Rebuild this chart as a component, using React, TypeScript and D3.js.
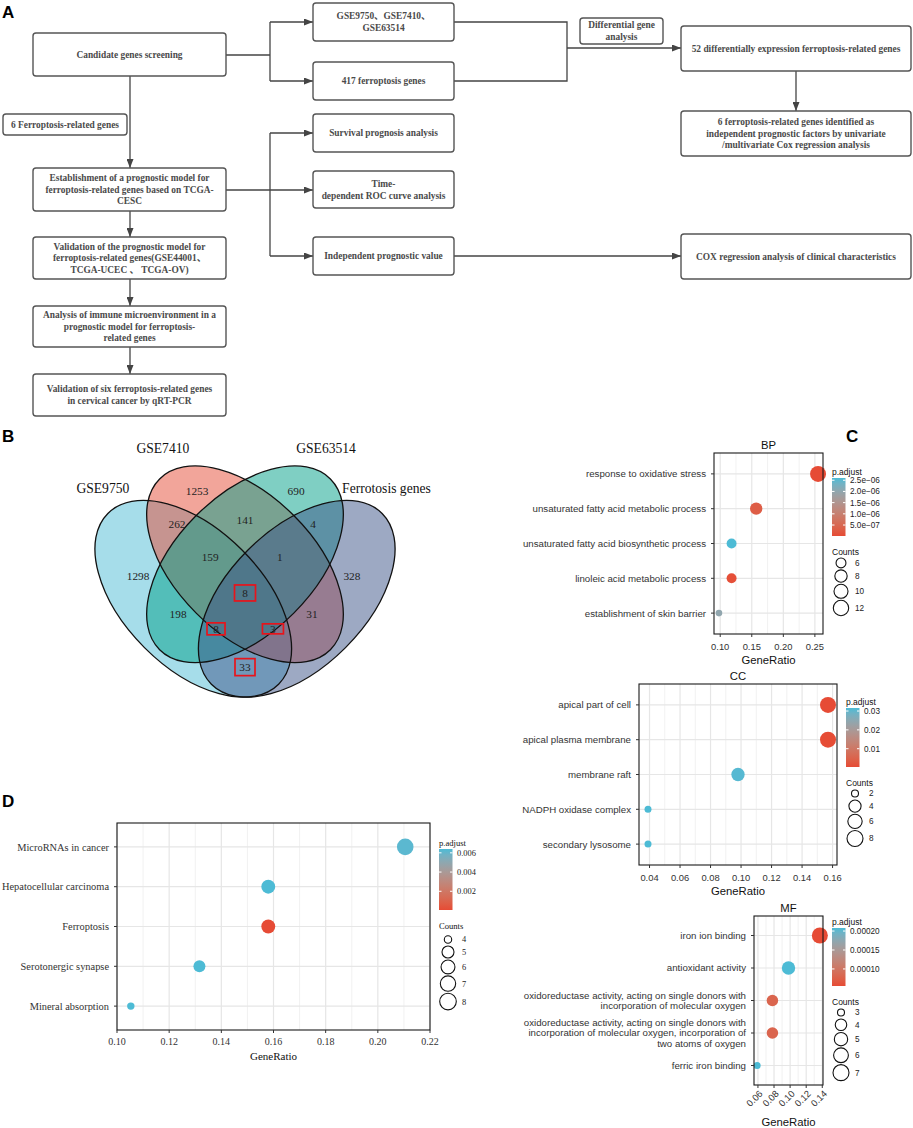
import React from 'react';
import * as d3 from 'd3';

const W = 913;
const H = 1128;
const RED = '#E64B35';
const BLUE = '#4DBBD5';
const SANS = "'Liberation Sans', Arial, Helvetica, sans-serif";
const SERIF = "'Liberation Serif', 'Times New Roman', 'Noto Sans CJK SC', serif";

// ---------- A: flow chart ----------
const flowText: Record<string, string[]> = {
  cand: ['Candidate genes screening'],
  gse: ['GSE9750、GSE7410、', 'GSE63514'],
  fer417: ['417 ferroptosis genes'],
  six: ['6 Ferroptosis-related genes'],
  surv: ['Survival prognosis analysis'],
  roc: ['Time-', 'dependent ROC curve analysis'],
  indep: ['Independent prognostic value'],
  estab: ['Establishment of a prognostic model for', 'ferroptosis-related genes based on TCGA-', 'CESC'],
  valid: ['Validation of the prognostic model for', 'ferroptosis-related genes(GSE44001、', 'TCGA-UCEC 、 TCGA-OV)'],
  immune: ['Analysis of  immune microenvironment in a', 'prognostic model for ferroptosis-', 'related genes'],
  qpcr: ['Validation of  six ferroptosis-related genes', 'in cervical cancer by qRT-PCR'],
  diff: ['Differential gene', 'analysis'],
  deg52: ['52 differentially expression ferroptosis-related genes'],
  cox6: ['6 ferroptosis-related genes identified as', 'independent prognostic factors by univariate', '/multivariate Cox regression analysis'],
  coxclin: ['COX regression analysis of clinical characteristics'],
};

// box layout [x0, y0, x1, y1]
const flowBox: Record<string, [number, number, number, number]> = {
  cand: [33, 33, 226, 76],
  gse: [313, 3, 454, 41],
  fer417: [313, 62, 454, 100],
  six: [3, 114, 127, 135],
  surv: [313, 114, 454, 152],
  roc: [313, 171, 454, 208],
  indep: [313, 237, 454, 275],
  estab: [33, 168, 226, 211],
  valid: [33, 237, 226, 279],
  immune: [33, 306, 226, 347],
  qpcr: [33, 374, 226, 416],
  diff: [580, 18, 663, 44],
  deg52: [681, 26, 911, 71],
  cox6: [681, 111, 911, 156],
  coxclin: [681, 234, 911, 279],
};

// connectors: points, arrow at end?
const flowLinks: { pts: [number, number][]; arrow: boolean }[] = [
  { pts: [[226, 55], [270, 55]], arrow: false },
  { pts: [[270, 22], [270, 81]], arrow: false },
  { pts: [[270, 22], [313, 22]], arrow: true },
  { pts: [[270, 81], [313, 81]], arrow: true },
  { pts: [[454, 22], [567, 22], [567, 81], [454, 81]], arrow: false },
  { pts: [[567, 48], [681, 48]], arrow: true },
  { pts: [[796, 71], [796, 111]], arrow: true },
  { pts: [[130, 76], [130, 168]], arrow: true },
  { pts: [[226, 190], [313, 190]], arrow: true },
  { pts: [[270, 133], [270, 256]], arrow: false },
  { pts: [[270, 133], [313, 133]], arrow: true },
  { pts: [[270, 256], [313, 256]], arrow: true },
  { pts: [[454, 256], [681, 256]], arrow: true },
  { pts: [[130, 211], [130, 237]], arrow: true },
  { pts: [[130, 279], [130, 306]], arrow: true },
  { pts: [[130, 347], [130, 374]], arrow: true },
];

// ---------- B: Venn ----------
const vennSets = ['GSE9750', 'GSE7410', 'GSE63514', 'Ferrotosis genes'];
const vennColors = ['#4DBBD5', '#E64B35', '#00A087', '#3C5488'];
const vennRegionKeys = ['A', 'B', 'C', 'D', 'AB', 'BC', 'CD', 'AC', 'BD', 'AD', 'ABC', 'BCD', 'ACD', 'ABD', 'ABCD'];
const vennRegionCounts = [1298, 1253, 690, 328, 262, 141, 4, 198, 31, 33, 159, 1, 8, 3, 8];

// VennDiagram quad layout in unit coordinates
const vennEllipses = [
  { cx: 0.35, cy: 0.47, rot: 45 },
  { cx: 0.5, cy: 0.57, rot: 45 },
  { cx: 0.5, cy: 0.57, rot: -45 },
  { cx: 0.65, cy: 0.47, rot: -45 },
];
const vennSetLabelPos: [number, number][] = [[0.088, 0.791], [0.262, 0.907], [0.735, 0.907], [0.91, 0.791]];
const vennRegionPos: Record<string, [number, number]> = {
  A: [0.19, 0.536], B: [0.361, 0.783], C: [0.648, 0.783], D: [0.81, 0.536],
  AB: [0.303, 0.687], BC: [0.5, 0.698], CD: [0.697, 0.687], AC: [0.306, 0.426],
  BD: [0.694, 0.426], AD: [0.5, 0.272], ABC: [0.399, 0.591], BCD: [0.601, 0.591],
  ACD: [0.416, 0.383], ABD: [0.581, 0.383], ABCD: [0.5, 0.487],
};
const vennHighlightBox: Record<string, [number, number]> = {
  ABCD: [21, 16], ACD: [18, 12], ABD: [21, 10], AD: [20, 17],
};

// ---------- C: GO dot plots ----------
const bpTerms = [['response to oxidative stress'], ['unsaturated fatty acid metabolic process'], ['unsaturated fatty acid biosynthetic process'], ['linoleic acid metabolic process'], ['establishment of skin barrier']];
const bpRatio = [0.255, 0.157, 0.118, 0.118, 0.098];
const bpCount = [13, 8, 6, 6, 5];
const bpPadj = [1.0e-8, 3.0e-7, 2.6e-6, 6.0e-8, 2.0e-6];
const bpXTicks = [0.1, 0.15, 0.2, 0.25];
const bpPTicks = [5e-7, 1e-6, 1.5e-6, 2e-6, 2.5e-6];
const bpSizeBreaks = [6, 8, 10, 12];

const ccTerms = [['apical part of cell'], ['apical plasma membrane'], ['membrane raft'], ['NADPH oxidase complex'], ['secondary lysosome']];
const ccRatio = [0.157, 0.157, 0.098, 0.039, 0.039];
const ccCount = [8, 8, 5, 2, 2];
const ccPadj = [0.0003, 0.0004, 0.031, 0.0316, 0.0316];
const ccXTicks = [0.04, 0.06, 0.08, 0.1, 0.12, 0.14, 0.16];
const ccPTicks = [0.01, 0.02, 0.03];
const ccSizeBreaks = [2, 4, 6, 8];

const mfTerms = [
  ['iron ion binding'],
  ['antioxidant activity'],
  ['oxidoreductase activity, acting on single donors with', 'incorporation of molecular oxygen'],
  ['oxidoreductase activity, acting on single donors with', 'incorporation of molecular oxygen, incorporation of', 'two atoms of oxygen'],
  ['ferric iron binding'],
];
const mfRatio = [0.137, 0.098, 0.078, 0.078, 0.059];
const mfCount = [7, 5, 4, 4, 3];
const mfPadj = [5.5e-5, 2.08e-4, 8.0e-5, 8.0e-5, 2.08e-4];
const mfXTicks = [0.06, 0.08, 0.1, 0.12, 0.14];
const mfPTicks = [0.0001, 0.00015, 0.0002];
const mfSizeBreaks = [3, 4, 5, 6, 7];

// ---------- D: KEGG dot plot ----------
const kgTerms = [['MicroRNAs in cancer'], ['Hepatocellular carcinoma'], ['Ferroptosis'], ['Serotonergic synapse'], ['Mineral absorption']];
const kgRatio = [0.2105, 0.158, 0.158, 0.1316, 0.1053];
const kgCount = [8, 6, 6, 5, 4];
const kgPadj = [0.0062, 0.0064, 0.00005, 0.0064, 0.0064];
const kgXTicks = [0.1, 0.12, 0.14, 0.16, 0.18, 0.2, 0.22];
const kgXDomain: [number, number] = [0.1, 0.22];
const kgPTicks = [0.002, 0.004, 0.006];
const kgSizeBreaks = [4, 5, 6, 7, 8];

const sciFmt = (v: number) => {
  const [m, e] = v.toExponential(1).split('e');
  const n = Math.abs(+e);
  return `${m}e${+e < 0 ? '−' : '+'}${n < 10 ? '0' + n : n}`;
};

type Fonts = { family: string; label: number; tick: number; title: number; legend: number; legendTitle: number; lineH: number };

type DotCfg = {
  id: string;
  title?: string;
  terms: string[][];
  ratio: number[];
  count: number[];
  padj: number[];
  xDomain?: [number, number];
  xTicks: number[];
  pTicks: number[];
  pFmt: (v: number) => string;
  sizeBreaks: number[];
  rRange: [number, number];
  box: [number, number, number, number];
  legend: [number, number];
  cbH: number;
  keyGap: number;
  rotateX?: boolean;
  axisTitleY: number;
  tickY: number;
  fonts: Fonts;
};

const cFonts: Fonts = { family: SANS, label: 9.7, tick: 9.4, title: 11.3, legend: 8.2, legendTitle: 8.5, lineH: 10.5 };
const dFonts: Fonts = { family: SERIF, label: 10.4, tick: 10, title: 11, legend: 8.4, legendTitle: 8.6, lineH: 11 };

const panels: DotCfg[] = [
  {
    id: 'bp', title: 'BP', terms: bpTerms, ratio: bpRatio, count: bpCount, padj: bpPadj,
    xTicks: bpXTicks, pTicks: bpPTicks, pFmt: sciFmt, sizeBreaks: bpSizeBreaks, rRange: [3.3, 8],
    box: [714, 453, 823, 634], legend: [832, 475], cbH: 58, keyGap: 2, tickY: 15.5, axisTitleY: 30, fonts: cFonts,
  },
  {
    id: 'cc', title: 'CC', terms: ccTerms, ratio: ccRatio, count: ccCount, padj: ccPadj,
    xTicks: ccXTicks, pTicks: ccPTicks, pFmt: d3.format('.2f'), sizeBreaks: ccSizeBreaks, rRange: [3.5, 8],
    box: [639, 684, 837, 865], legend: [846, 705], cbH: 59, keyGap: 2, tickY: 15.5, axisTitleY: 30, fonts: cFonts,
  },
  {
    id: 'mf', title: 'MF', terms: mfTerms, ratio: mfRatio, count: mfCount, padj: mfPadj,
    xTicks: mfXTicks, pTicks: mfPTicks, pFmt: d3.format('.5f'), sizeBreaks: mfSizeBreaks, rRange: [3.5, 8],
    box: [754, 916, 823, 1085], legend: [832, 925], cbH: 58, keyGap: 2, rotateX: true, tickY: 7, axisTitleY: 41, fonts: cFonts,
  },
  {
    id: 'kegg', terms: kgTerms, ratio: kgRatio, count: kgCount, padj: kgPadj, xDomain: kgXDomain,
    xTicks: kgXTicks, pTicks: kgPTicks, pFmt: d3.format('.3f'), sizeBreaks: kgSizeBreaks, rRange: [3.7, 8.3],
    box: [117, 823, 430, 1030], legend: [439, 846], cbH: 61, keyGap: 5, tickY: 14.5, axisTitleY: 30, fonts: dFonts,
  },
];

function sizeScale(counts: number[], rRange: [number, number]) {
  const [cmin, cmax] = d3.extent(counts) as [number, number];
  const t = d3.scaleLinear().domain([cmin, cmax]).range([0, 1]).clamp(true);
  const r = d3.scaleLinear().domain([0, 1]).range(rRange);
  return (c: number) => r(Math.sqrt(t(c)));
}

function DotPanel({ cfg }: { cfg: DotCfg }) {
  const [x0, y0, x1, y1] = cfg.box;
  const f = cfg.fonts;
  const ext = d3.extent(cfg.ratio) as [number, number];
  const pad = (ext[1] - ext[0]) * 0.05;
  const xDom = cfg.xDomain ?? [ext[0] - pad, ext[1] + pad];
  const x = d3.scaleLinear().domain(xDom).range([x0, x1]);
  const keys = cfg.terms.map((t) => t.join(' '));
  const y = d3.scalePoint<string>().domain(keys).range([y0, y1]).padding(0.6);
  const pDom = d3.extent(cfg.padj) as [number, number];
  const color = d3.scaleLinear<string>().domain(pDom).range([RED, BLUE]).interpolate(d3.interpolateLab);
  const r = sizeScale(cfg.count, cfg.rRange);

  const ticks = cfg.xTicks.filter((t) => t >= xDom[0] - 1e-9 && t <= xDom[1] + 1e-9);
  const minor = cfg.xTicks.slice(1).map((t, i) => (t + cfg.xTicks[i]) / 2).filter((t) => t > xDom[0] && t < xDom[1]);

  const [lx, ty] = cfg.legend;
  const cbTop = ty + 3;
  const cbBot = cbTop + cfg.cbH;
  const cbW = 13.5;
  const cb = d3.scaleLinear().domain(pDom).range([cbBot, cbTop]);
  const gradId = `grad-${cfg.id}`;
  const stops = d3.range(0, 1.0001, 0.1);
  const countsY = cbBot + 19;
  let cy = countsY + cfg.keyGap;
  const sizeKeys = cfg.sizeBreaks.map((b) => {
    const rr = r(b);
    const h = Math.max(11, 2 * rr + 2);
    const c = cy + h / 2;
    cy += h;
    return { b, rr, c };
  });

  return (
    <g fontFamily={f.family}>
      <defs>
        <linearGradient id={gradId} x1="0" y1="0" x2="0" y2="1">
          {stops.map((o) => (
            <stop key={o} offset={o} stopColor={color(pDom[1] - o * (pDom[1] - pDom[0]))} />
          ))}
        </linearGradient>
      </defs>
      <rect x={x0} y={y0} width={x1 - x0} height={y1 - y0} fill="#fff" />
      {minor.map((t) => (
        <line key={'mn' + t} x1={x(t)} x2={x(t)} y1={y0} y2={y1} stroke="#ebebeb" strokeWidth={0.7} />
      ))}
      {ticks.map((t) => (
        <line key={'mj' + t} x1={x(t)} x2={x(t)} y1={y0} y2={y1} stroke="#e6e6e6" strokeWidth={1.2} />
      ))}
      {keys.map((k) => (
        <line key={'h' + k} x1={x0} x2={x1} y1={y(k)} y2={y(k)} stroke="#e6e6e6" strokeWidth={1.2} />
      ))}
      {keys.map((k, i) => (
        <circle key={'d' + k} cx={x(cfg.ratio[i])} cy={y(k)!} r={r(cfg.count[i])} fill={color(cfg.padj[i])} />
      ))}
      <rect x={x0} y={y0} width={x1 - x0} height={y1 - y0} fill="none" stroke="#1a1a1a" strokeWidth={1.1} />
      {cfg.title && (
        <text x={(x0 + x1) / 2} y={y0 - 4} textAnchor="middle" fontSize={f.title} fill="#111">
          {cfg.title}
        </text>
      )}
      {/* y axis */}
      {keys.map((k, i) => {
        const lines = cfg.terms[i];
        const yc = y(k)!;
        const start = yc - ((lines.length - 1) * f.lineH) / 2;
        return (
          <g key={'yl' + k}>
            <line x1={x0 - 3} x2={x0} y1={yc} y2={yc} stroke="#333" strokeWidth={1} />
            <text x={x0 - 8} textAnchor="end" fontSize={f.label} fill="#333">
              {lines.map((ln, j) => (
                <tspan key={j} x={x0 - 8} y={start + j * f.lineH} dy="0.35em">
                  {ln}
                </tspan>
              ))}
            </text>
          </g>
        );
      })}
      {/* x axis */}
      {ticks.map((t) => (
        <g key={'xt' + t}>
          <line x1={x(t)} x2={x(t)} y1={y1} y2={y1 + 3} stroke="#333" strokeWidth={1} />
          {cfg.rotateX ? (
            <text
              transform={`translate(${x(t) + 3},${y1 + cfg.tickY}) rotate(-45)`}
              textAnchor="end"
              dy="0.35em"
              fontSize={f.tick}
              fill="#333"
            >
              {d3.format('.2f')(t)}
            </text>
          ) : (
            <text x={x(t)} y={y1 + cfg.tickY} textAnchor="middle" fontSize={f.tick} fill="#333">
              {d3.format('.2f')(t)}
            </text>
          )}
        </g>
      ))}
      <text x={(x0 + x1) / 2} y={y1 + cfg.axisTitleY} textAnchor="middle" fontSize={f.title} fill="#111">
        GeneRatio
      </text>
      {/* colour legend */}
      <text x={lx} y={ty} fontSize={f.legendTitle} fill="#111">
        p.adjust
      </text>
      <rect x={lx} y={cbTop} width={cbW} height={cbBot - cbTop} fill={`url(#${gradId})`} />
      {cfg.pTicks.map((p) => (
        <g key={'pt' + p}>
          <line x1={lx} x2={lx + 2.5} y1={cb(p)} y2={cb(p)} stroke="#fff" strokeWidth={1} />
          <line x1={lx + cbW - 2.5} x2={lx + cbW} y1={cb(p)} y2={cb(p)} stroke="#fff" strokeWidth={1} />
          <text x={lx + 18} y={cb(p)} dy="0.35em" fontSize={f.legend} fill="#222">
            {cfg.pFmt(p)}
          </text>
        </g>
      ))}
      {/* size legend */}
      <text x={lx} y={countsY} fontSize={f.legendTitle} fill="#111">
        Counts
      </text>
      {sizeKeys.map((s) => (
        <g key={'sk' + s.b}>
          <circle cx={lx + 9} cy={s.c} r={s.rr} fill="#fff" stroke="#111" strokeWidth={1.1} />
          <text x={lx + 23} y={s.c} dy="0.35em" fontSize={f.legend} fill="#222">
            {s.b}
          </text>
        </g>
      ))}
    </g>
  );
}

function FlowChart() {
  const lh = 11.7;
  return (
    <g>
      <defs>
        <marker id="arrowHead" markerUnits="userSpaceOnUse" markerWidth={9} markerHeight={7} refX={9} refY={3.5} orient="auto">
          <path d="M0,0 L9,3.5 L0,7 Z" fill="#444" />
        </marker>
      </defs>
      {flowLinks.map((l, i) => (
        <path
          key={i}
          d={d3.line()(l.pts) ?? ''}
          fill="none"
          stroke="#444"
          strokeWidth={1.3}
          markerEnd={l.arrow ? 'url(#arrowHead)' : undefined}
        />
      ))}
      {Object.keys(flowBox).map((id) => {
        const [bx0, by0, bx1, by1] = flowBox[id];
        const lines = flowText[id];
        const cx = (bx0 + bx1) / 2;
        const cyy = (by0 + by1) / 2;
        const start = cyy - ((lines.length - 1) * lh) / 2;
        return (
          <g key={id}>
            <rect x={bx0} y={by0} width={bx1 - bx0} height={by1 - by0} rx={3} fill="#fff" stroke="#555" strokeWidth={1.4} />
            <text textAnchor="middle" fontFamily={SERIF} fontWeight="bold" fontSize={9.4} fill="#4a4a4a">
              {lines.map((ln, j) => (
                <tspan key={j} x={cx} y={start + j * lh} dy="0.35em">
                  {ln}
                </tspan>
              ))}
            </text>
          </g>
        );
      })}
    </g>
  );
}

function Venn() {
  const s = 345;
  const u = d3.scaleLinear().domain([0, 1]).range([245 - s / 2, 245 + s / 2]);
  const v = d3.scaleLinear().domain([0, 1]).range([466 + 0.855 * s, 466 - 0.145 * s]);
  const a = 0.35 * s;
  const b = 0.2 * s;
  return (
    <g fontFamily={SERIF}>
      {vennEllipses.map((e, i) => (
        <ellipse
          key={'f' + i}
          cx={0}
          cy={0}
          rx={a}
          ry={b}
          transform={`translate(${u(e.cx)},${v(e.cy)}) rotate(${e.rot})`}
          fill={vennColors[i]}
          fillOpacity={0.5}
        />
      ))}
      {vennEllipses.map((e, i) => (
        <ellipse
          key={'s' + i}
          cx={0}
          cy={0}
          rx={a}
          ry={b}
          transform={`translate(${u(e.cx)},${v(e.cy)}) rotate(${e.rot})`}
          fill="none"
          stroke="#111"
          strokeWidth={1.3}
        />
      ))}
      {vennSets.map((name, i) => (
        <text key={name} x={u(vennSetLabelPos[i][0])} y={v(vennSetLabelPos[i][1])} dy="0.35em" textAnchor="middle" fontSize={13.6} fill="#111">
          {name}
        </text>
      ))}
      {vennRegionKeys.map((k, i) => {
        const [pu, pv] = vennRegionPos[k];
        const px = u(pu);
        const py = v(pv);
        const hb = vennHighlightBox[k];
        return (
          <g key={k}>
            {hb && <rect x={px - hb[0] / 2} y={py - hb[1] / 2} width={hb[0]} height={hb[1]} fill="none" stroke="#e8141b" strokeWidth={1.7} />}
            <text x={px} y={py} dy="0.35em" textAnchor="middle" fontSize={11.3} fill="#222">
              {vennRegionCounts[i]}
            </text>
          </g>
        );
      })}
    </g>
  );
}

export default function App() {
  const letters: [string, number, number][] = [
    ['A', 2, 18],
    ['B', 2, 442],
    ['C', 846, 442],
    ['D', 2, 807],
  ];
  return (
    <svg width={W} height={H} viewBox={`0 0 ${W} ${H}`} style={{ position: 'absolute', left: 0, top: 0, background: '#fff' }}>
      <rect width={W} height={H} fill="#fff" />
      {letters.map(([l, lx, ly]) => (
        <text key={l} x={lx} y={ly} fontFamily={SANS} fontWeight="bold" fontSize={17} fill="#000">
          {l}
        </text>
      ))}
      <FlowChart />
      <Venn />
      {panels.map((p) => (
        <DotPanel key={p.id} cfg={p} />
      ))}
    </svg>
  );
}
